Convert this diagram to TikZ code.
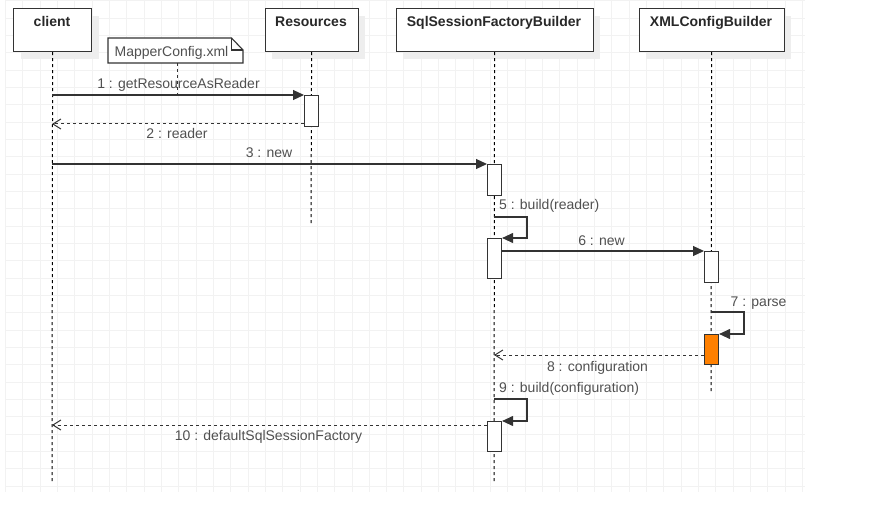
\documentclass[tikz,border=0pt]{standalone}
\usepackage{fontspec}
\setmainfont{Liberation Sans}
\usetikzlibrary{arrows.meta,shadows}
\definecolor{ln}{RGB}{51,51,51}
\definecolor{tx}{RGB}{80,80,80}
\definecolor{ttl}{RGB}{40,40,40}
\definecolor{gridc}{RGB}{242,242,242}
\definecolor{shad}{RGB}{238,238,238}
\definecolor{orng}{RGB}{255,128,0}
\tikzset{
  headbox/.style={draw=ln, line width=1.2pt, fill=white, anchor=north west, inner sep=0pt,
    minimum height=43pt, drop shadow={shadow xshift=7pt, shadow yshift=-7pt, fill=shad, opacity=1}},
  ttlstyle/.style={anchor=base, inner sep=0pt, text=ttl, font=\fontsize{14}{16}\selectfont\bfseries},
  lbl/.style={anchor=base, inner sep=0pt, text=tx, font=\fontsize{14}{16}\selectfont},
  lblw/.style={lbl, anchor=base west},
  life/.style={draw=black, line width=1pt, dash pattern=on 3pt off 3pt},
  actbox/.style={draw=ln, line width=1.1pt, fill=white, anchor=north west, inner sep=0pt, minimum width=14pt},
  callmsg/.style={draw=ln, line width=1.1pt, -{Triangle[length=11pt,width=10pt]}},
  retmsg/.style={draw=ln, line width=1pt, dash pattern=on 3pt off 3pt, -{Straight Barb[length=8pt,width=10pt]}},
}
\begin{document}
\begin{tikzpicture}[x=1pt,y=-1pt]
\useasboundingbox (0,0) rectangle (870,505);
% grid
\foreach \i in {0,...,46} \draw[gridc, line width=0.8pt] ({5.3+17.33*\i},0) -- ({5.3+17.33*\i},492);
\foreach \j in {0,...,28} \draw[gridc, line width=0.8pt] (5.3,{0.7+17.33*\j}) -- (805,{0.7+17.33*\j});

% lifeline end points
\coordinate (clientEnd) at (52,483);
\coordinate (resEnd) at (311,224);
\coordinate (sfbEnd) at (494,483);
\coordinate (xmlEnd) at (711,393);

% heads
\node[headbox, minimum width=78pt] (client) at (13,8) {};
\node[headbox, minimum width=93pt] (res) at (264.5,8) {};
\node[headbox, minimum width=197pt] (sfb) at (395.5,8) {};
\node[headbox, minimum width=145pt] (xml) at (638.5,8) {};

\draw[life] (client.south) -- (clientEnd);
\draw[life] (res.south) -- (resEnd);
\draw[life] (sfb.south) -- (sfbEnd);
\draw[life] (xml.south) -- (xmlEnd);

\node[ttlstyle] (clientT) at (52,27) {client};
\node[ttlstyle] (resT) at (311,27) {Resources};
\node[ttlstyle] (sfbT) at (494,27) {SqlSessionFactoryBuilder};
\node[ttlstyle] (xmlT) at (711,27) {XMLConfigBuilder};

% note
\coordinate (nA) at (108,38);
\coordinate (nB) at (231.5,38);
\coordinate (nC) at (243,50);
\coordinate (nD) at (243,63);
\coordinate (nE) at (108,63);
\coordinate (nF) at (231.5,50);
\fill[white] (nA) -- (nB) -- (nC) -- (nD) -- (nE) -- cycle;
\draw[ln, line width=1.1pt, line join=miter] (nA) -- (nB) -- (nC) -- (nD) -- (nE) -- cycle;
\draw[ln, line width=1.1pt] (nB) -- (nF) -- (nC);
\node[lbl] (noteT) at (171.5,57) {MapperConfig.xml};

% activations
\node[actbox, minimum height=31pt] (a1) at (304,95) {};
\node[actbox, minimum height=31pt] (a2) at (487,164) {};
\node[actbox, minimum height=40pt] (a3) at (487,238) {};
\node[actbox, minimum height=31pt] (a4) at (704,251) {};
\node[actbox, minimum height=30pt, fill=orng] (a5) at (704,334) {};
\node[actbox, minimum height=30pt] (a6) at (487,421) {};

% message end points
\coordinate (c1) at (52,95);
\coordinate (r2) at (304,124);
\coordinate (c2) at (52,124);
\coordinate (c3) at (52,164);
\coordinate (s5) at (494,217);
\coordinate (k5a) at (527,217);
\coordinate (k5b) at (527,238);
\coordinate (s6) at (501,251);
\coordinate (s7) at (711,312);
\coordinate (k7a) at (744,312);
\coordinate (k7b) at (744,334);
\coordinate (r8) at (704,355);
\coordinate (t8) at (494,355);
\coordinate (s9) at (494,399);
\coordinate (k9a) at (527,399);
\coordinate (k9b) at (527,421);
\coordinate (r10) at (487,425);
\coordinate (t10) at (52,425);
\coordinate (noteLineEnd) at (177,95);

% labels
\node[lbl] (l1) at (178.5,89) {1 : getResourceAsReader};
\node[lbl] (l2) at (177,139) {2 : reader};
\node[lbl] (l3) at (269,158) {3 : new};
\node[lblw] (l5) at (499,210) {5 : build(reader)};
\node[lbl] (l6) at (601.5,245) {6 : new};
\node[lblw] (l7) at (730.5,306) {7 : parse};
\node[lbl] (l8) at (597.5,371) {8 : configuration};
\node[lblw] (l9) at (499,392.5) {9 : build(configuration)};
\node[lbl] (l10) at (268.5,440.5) {10 : defaultSqlSessionFactory};

% messages
\draw[callmsg] (c1) -- (a1.north west);
\draw[retmsg] (r2) -- (c2);
\draw[callmsg] (c3) -- (a2.north west);
\draw[callmsg] (s5) -- (k5a) -- (k5b) -- (a3.north east);
\draw[callmsg] (s6) -- (a4.north west);
\draw[callmsg] (s7) -- (k7a) -- (k7b) -- (a5.north east);
\draw[retmsg] (r8) -- (t8);
\draw[callmsg] (s9) -- (k9a) -- (k9b) -- (a6.north east);
\draw[retmsg] (r10) -- (t10);
\draw[ln, line width=1pt, dash pattern=on 3pt off 3pt] (noteT.south |- nE) ++(5.5,0) -- (noteLineEnd);
\end{tikzpicture}
\end{document}
